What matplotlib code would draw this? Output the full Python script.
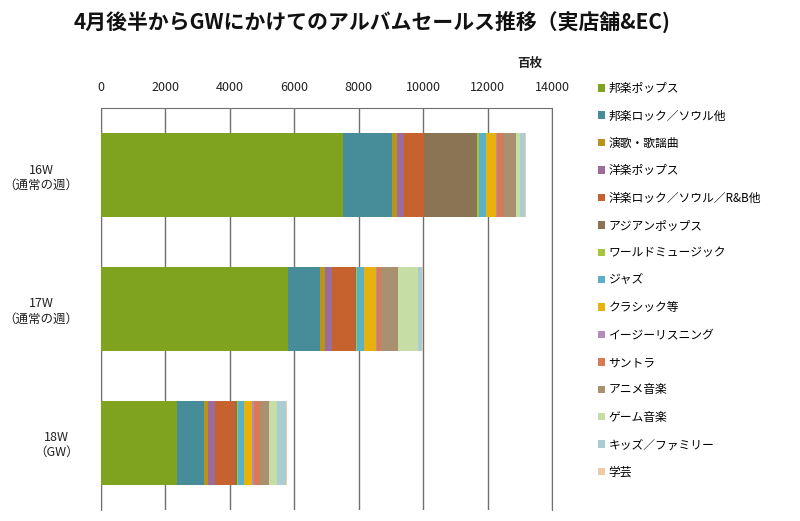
import numpy as np
import matplotlib
matplotlib.use("Agg")
import matplotlib.pyplot as plt
from matplotlib.patches import Patch

plt.rcParams['font.family'] = ['Noto Sans CJK JP', 'DejaVu Sans']

# data (百枚)
weeks = ['16W\n（通常の週）', '17W\n（通常の週）', '18W\n（GW）']
genres = ['邦楽ポップス', '邦楽ロック／ソウル他', '演歌・歌謡曲', '洋楽ポップス',
          '洋楽ロック／ソウル／R&B他', 'アジアンポップス', 'ワールドミュージック',
          'ジャズ', 'クラシック等', 'イージーリスニング', 'サントラ', 'アニメ音楽',
          'ゲーム音楽', 'キッズ／ファミリー', '学芸']
w16 = [7520, 1520, 155, 200, 620, 1650, 60, 215, 310, 50, 175, 420, 110, 150, 30]
w17 = [5800, 1000, 155, 205, 720, 50, 20, 220, 360, 30, 145, 515, 620, 135, 30]
w18 = [2355, 855, 125, 205, 620, 70, 30, 175, 255, 50, 205, 280, 240, 280, 40]

colors = ['#7fa31f', '#478c99', '#b8951a', '#9b6c9a', '#c5622e', '#8b7454',
          '#a6c53f', '#5ab0c4', '#e8b20e', '#b58bb8', '#d97a55', '#a89070',
          '#c6dea6', '#a9cdd3', '#f0c9a6']

vals = np.array([w16, w17, w18])

fig = plt.figure(figsize=(8, 5.21), dpi=100)
ax = fig.add_axes([0.126, 0.022, 0.564, 0.770])

y = np.arange(len(weeks))
left = np.zeros(len(weeks))
for i, g in enumerate(genres):
    ax.barh(y, vals[:, i], left=left, height=0.63, color=colors[i], zorder=3)
    left += vals[:, i]

ax.set_xlim(0, 14000)
ax.set_ylim(2.5, -0.5)
ax.set_xticks(np.arange(0, 14001, 2000))
ax.xaxis.tick_top()
ax.tick_params(axis='x', length=0, pad=10, labelsize=9, colors='#222222')
ax.set_yticks(y)
ax.set_yticklabels(weeks, fontsize=9, multialignment='center')
ax.tick_params(axis='y', length=0, pad=16, colors='#222222')
ax.grid(axis='x', color='#6f6f6f', linewidth=1, zorder=0)
ax.spines['bottom'].set_visible(False)
for s in ['left', 'top', 'right']:
    ax.spines[s].set_color('#6f6f6f')

fig.text(530 / 800, 1 - 63 / 521, '百枚', fontsize=9, fontweight='bold',
         ha='center', va='center', color='#222222')
fig.text(372 / 800, 1 - 22 / 521, '4月後半からGWにかけてのアルバムセールス推移（実店舗&EC)',
         fontsize=15, fontweight='bold', ha='center', va='center', color='#111111')

handles = [Patch(facecolor=c, edgecolor='none') for c in colors]
fig.legend(handles, genres, loc='upper left', bbox_to_anchor=(598 / 800, 1 - 82 / 521),
           frameon=False, fontsize=8.5, handlelength=0.6, handleheight=0.6,
           handletextpad=0.3, labelspacing=1.22, borderpad=0, borderaxespad=0)

plt.savefig('out.png', dpi=100)
